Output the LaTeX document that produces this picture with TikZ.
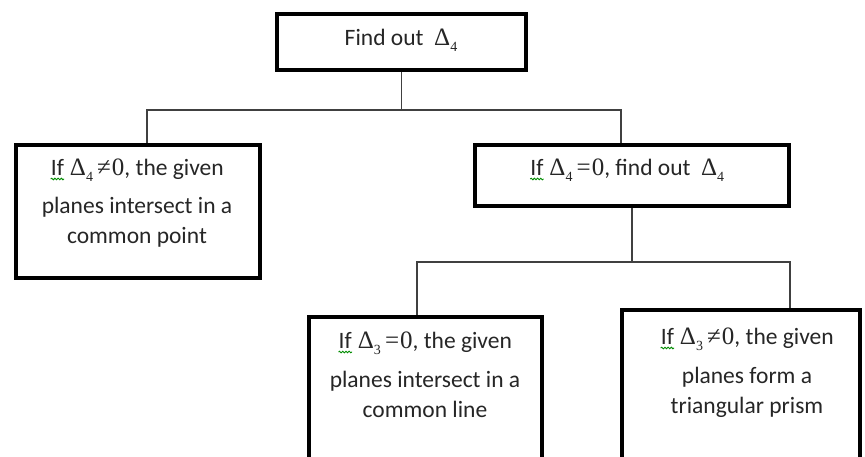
\documentclass[tikz,border=0pt]{standalone}
\usepackage{fontspec}
\setmainfont{Carlito}
\newfontfamily\mf{Liberation Serif}
\usetikzlibrary{decorations.pathmorphing}
\tikzset{
  box/.style={draw=black, line width=3.6pt, fill=white, inner sep=0pt},
  conn/.style={draw=black!75, line width=1.6pt},
  txt/.style={align=center, font=\fontsize{23.5}{30}\selectfont, text=black!85, inner sep=0pt},
}
\newcommand\Dl[1]{{\mf\fontsize{25}{30}\selectfont Δ}\raisebox{-0.28em}{\mf\fontsize{14}{14}\selectfont #1}}
\newcommand\rel[1]{{\mf\fontsize{25}{30}\selectfont\,#1\kern1pt 0}}
\newcommand\wavyIf{\tikz[baseline=(w.base)]{\node[inner sep=0pt] (w) {If};
  \draw[green!55!black, line width=0.9pt, decorate, decoration={snake, amplitude=0.8pt, segment length=3.2pt}]
    ([yshift=-4pt]w.base west) -- ([yshift=-4pt]w.base east);}}
\begin{document}
\begin{tikzpicture}[x=1pt,y=-1pt]
\useasboundingbox (0,0) rectangle (865,456);
\clip (0,0) rectangle (865,456);
\fill[white] (0,0) rectangle (865,456);
% boxes
\node[box, minimum width=249, minimum height=56] (top) at (401.5,42) {};
\node[box, minimum width=244, minimum height=133] (left) at (138,211.5) {};
\node[box, minimum width=314, minimum height=61] (mid) at (632,175.5) {};
\node[box, minimum width=233, minimum height=183] (bl) at (425.5,408.5) {};
\node[box, minimum width=238, minimum height=190] (br) at (741,405) {};
% connectors
\coordinate (j1) at (401.5,110);
\coordinate (j2) at (632,262);
\draw[conn] (top.south) -- (j1);
\draw[conn] (j1) -| ([xshift=9pt]left.north);
\draw[conn] (j1) -| ([xshift=-11pt]mid.north);
\draw[conn] (mid.south) -- (j2);
\draw[conn] (j2) -| ([xshift=-8.5pt]bl.north);
\draw[conn] (j2) -| ([xshift=49pt]br.north);
% texts (base anchor = baseline of last line)
\node[txt, anchor=base] (t0) at (401,45) {Find out\ \ \Dl{4}};
\node[txt, anchor=base] (t1) at (137,243) {\wavyIf\ \Dl{4}\rel{≠}, the given\\[8pt] planes intersect in a\\ common point};
\node[txt, anchor=base] (t2) at (627,175) {\wavyIf\ \Dl{4}\rel{=}, find out\ \ \Dl{4}};
\node[txt, anchor=base] (t3) at (425,417) {\wavyIf\ \Dl{3}\rel{=}, the given\\[9pt] planes intersect in a\\ common line};
\node[txt, anchor=base] (t4) at (747,413) {\wavyIf\ \Dl{3}\rel{≠}, the given\\[9pt] planes form a\\ triangular prism};
\end{tikzpicture}
\end{document}
